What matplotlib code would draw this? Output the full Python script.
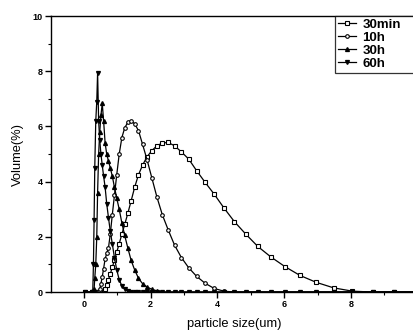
import matplotlib
matplotlib.use("Agg")
import matplotlib.pyplot as plt
from matplotlib.ticker import MultipleLocator

plt.rcParams['font.family'] = ['Liberation Sans', 'DejaVu Sans']

# ---------- DATA ----------
size_um = [0.03, 0.25, 0.27, 0.29, 0.31, 0.33, 0.36, 0.39, 0.415, 0.446, 0.479,
           0.515, 0.554, 0.595, 0.640, 0.688, 0.740, 0.795, 0.855, 0.919, 0.988,
           1.062, 1.142, 1.227, 1.319, 1.418, 1.525, 1.639, 1.762, 1.894, 2.036,
           2.189, 2.353, 2.529, 2.719, 2.923, 3.142, 3.378, 3.631, 3.904, 4.196,
           4.511, 4.850, 5.213, 5.604, 6.025, 6.476, 6.962, 7.484, 8.046, 8.649,
           9.298, 9.996]

vol_30min = [0, 0, 0, 0, 0, 0, 0, 0, 0, 0, 0,
             0, 0, 0, 0.1, 0.25, 0.45, 0.65, 0.9, 1.15, 1.45,
             1.75, 2.1, 2.45, 2.85, 3.3, 3.8, 4.25, 4.6, 4.9, 5.12,
             5.3, 5.4, 5.42, 5.3, 5.08, 4.82, 4.4, 3.98, 3.55, 3.05,
             2.55, 2.1, 1.65, 1.27, 0.92, 0.6, 0.35, 0.15, 0.03, 0,
             0, 0]

vol_10h = [0, 0, 0, 0, 0, 0, 0, 0, 0, 0, 0.1,
           0.3, 0.55, 0.85, 1.2, 1.4, 1.6, 2.1, 2.8, 3.5, 4.25,
           5.0, 5.6, 5.95, 6.15, 6.2, 6.1, 5.85, 5.35, 4.8, 4.15,
           3.45, 2.8, 2.25, 1.7, 1.25, 0.88, 0.57, 0.32, 0.13, 0.03,
           0, 0, 0, 0, 0, 0, 0, 0, 0, 0,
           0, 0]

vol_30h = [0, 0, 0, 0, 0.1, 0.5, 1.0, 2.0, 3.6, 5.0, 5.8,
           6.4, 6.84, 6.2, 5.4, 5.0, 4.75, 4.5, 4.2, 3.8, 3.4,
           3.0, 2.5, 2.05, 1.6, 1.15, 0.8, 0.5, 0.3, 0.18, 0.1,
           0.04, 0, 0, 0, 0, 0, 0, 0, 0, 0,
           0, 0, 0, 0, 0, 0, 0, 0, 0, 0,
           0, 0]

vol_60h = [0, 0, 0, 1.0, 2.6, 4.5, 6.2, 6.9, 7.95, 6.2, 5.5,
           5.0, 4.6, 4.2, 3.8, 3.2, 2.7, 2.2, 1.75, 1.25, 0.8,
           0.45, 0.22, 0.1, 0.04, 0, 0, 0, 0, 0, 0,
           0, 0, 0, 0, 0, 0, 0, 0, 0, 0,
           0, 0, 0, 0, 0, 0, 0, 0, 0, 0,
           0, 0]

labels = ["30min", "10h", "30h", "60h"]

# ---------- PLOT ----------
fig = plt.figure(figsize=(4.13, 3.34), dpi=100)
ax = fig.add_axes([0.1235, 0.1257, 0.888, 0.826])

ax.plot(size_um, vol_30min, '-s', color='black', lw=0.9, ms=2.6,
        mfc='white', mew=0.8, label=labels[0])
ax.plot(size_um, vol_10h, '-o', color='black', lw=0.9, ms=2.6,
        mfc='white', mew=0.8, label=labels[1])
ax.plot(size_um, vol_30h, '-^', color='black', lw=0.9, ms=2.8, label=labels[2])
ax.plot(size_um, vol_60h, '-v', color='black', lw=0.9, ms=2.8, label=labels[3])

ax.set_xlim(-0.98, 10.0)
ax.set_ylim(0, 10)
ax.xaxis.set_major_locator(MultipleLocator(2))
ax.xaxis.set_minor_locator(MultipleLocator(1))
ax.yaxis.set_major_locator(MultipleLocator(2))
ax.yaxis.set_minor_locator(MultipleLocator(1))
ax.tick_params(which='major', direction='out', length=4, width=1,
               labelsize=6.5, pad=2)
ax.tick_params(which='minor', direction='out', length=2, width=0.8)
for lab in ax.get_xticklabels() + ax.get_yticklabels():
    lab.set_fontweight('bold')
for sp in ax.spines.values():
    sp.set_linewidth(1.0)

ax.set_xlabel("particle size(um)", fontsize=9.3, labelpad=6)
ax.set_ylabel("Volume(%)", fontsize=9.3, labelpad=6)

leg = ax.legend(loc='upper left', bbox_to_anchor=(0.774, 0.0, 0.226, 1.0),
                mode='expand', fontsize=9.5, frameon=True, fancybox=False,
                edgecolor='black', borderaxespad=0, handlelength=1.4,
                handletextpad=0.5, labelspacing=0.06, borderpad=0.2)
leg.get_frame().set_linewidth(0.9)
for t in leg.get_texts():
    t.set_fontweight('bold')

fig.savefig("out.png", dpi=100)
